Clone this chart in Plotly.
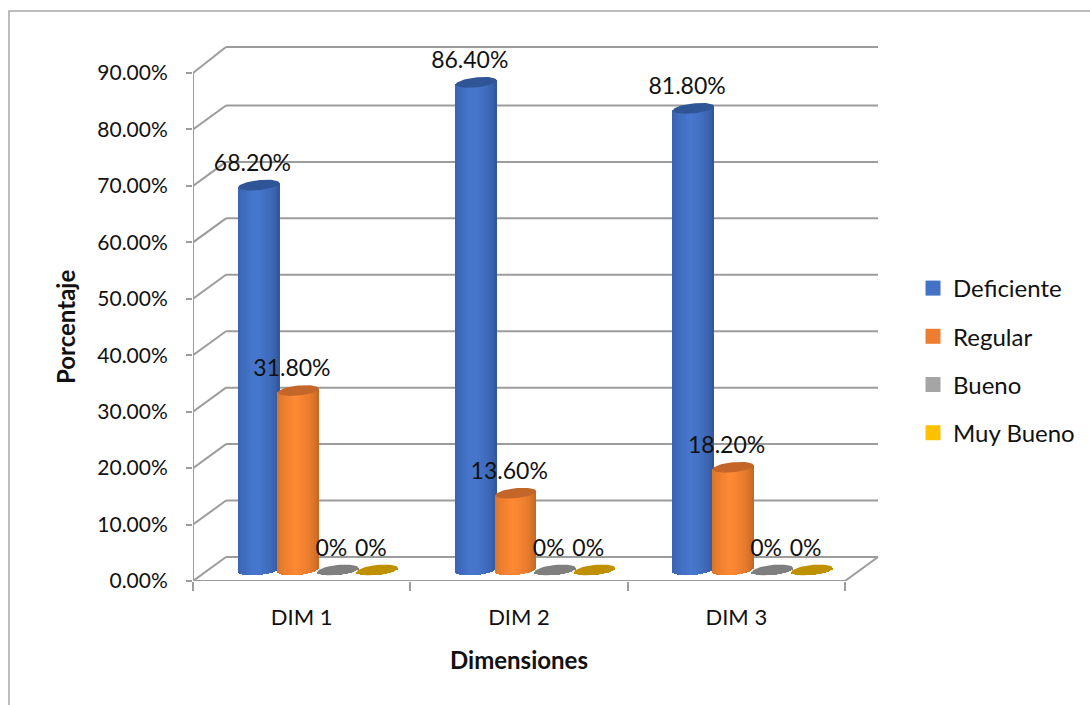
import numpy as np
import plotly.graph_objects as go

# Chart data
categories = ["DIM 1", "DIM 2", "DIM 3"]
deficiente = [68.2, 86.4, 81.8]
regular = [31.8, 13.6, 18.2]
bueno = [0, 0, 0]
muy_bueno = [0, 0, 0]
y_ticks = [0, 10, 20, 30, 40, 50, 60, 70, 80, 90]
y_tick_labels = ["0.00%", "10.00%", "20.00%", "30.00%", "40.00%",
                 "50.00%", "60.00%", "70.00%", "80.00%", "90.00%"]

# Pixel scale of the axes: one category is 217.33 px, one percent is 5.644 px
UX = 1 / 217.33
UY = 1 / 5.644
# The plot area runs to the right page edge so the legend stays inside it
PLOT_W, PLOT_H = 897, 541

# Oblique depth of the chart box and of the cylinders' axis plane
WALL_DX, WALL_DY = 33 * UX, 24 * UY
MID_DX, MID_DY = 16.5 * UX, 11 * UY
# Cylinder proportions
RADIUS = 20.5 * UX
RY = 5 * UY
TILT = 2 * UY
SPACING = 39.5 * UX
FONT = "Lato"
TXT = "#111111"
FRAME = "#9c9c9c"


def lerp_hex(a, b, s):
    ca = [int(a[i:i + 2], 16) for i in (1, 3, 5)]
    cb = [int(b[i:i + 2], 16) for i in (1, 3, 5)]
    return "rgb(%d,%d,%d)" % tuple(round(p + (q - p) * s) for p, q in zip(ca, cb))


series = [
    ("Deficiente", deficiente, "#4472C4", "#2B4D8C", "#4777CE", "#2F5597"),
    ("Regular", regular, "#ED7D31", "#B25E1E", "#FF8934", "#C4662A"),
    ("Bueno", bueno, "#A5A5A5", "#7F7F7F", "#7F7F7F", "#7F7F7F"),
    ("Muy Bueno", muy_bueno, "#FFC000", "#BF9000", "#BF9000", "#BF9000"),
]

fig = go.Figure()

# Shaded cylinder bodies: each one is a run of narrow bars with a curved base
N = 30
strip_t = (np.arange(N) + 0.5) / N * 2 - 1
shade = (1 - np.abs(strip_t + 0.1) / 1.1) ** 0.4
strip_w = 2 * RADIUS / N * 1.25
for k, (name, values, _, edge, centre, _) in enumerate(series):
    xs, bases, heights, colors = [], [], [], []
    for c, v in enumerate(values):
        cx = c + 0.5 + MID_DX + (k - 1.5) * SPACING
        for t, s in zip(strip_t, shade):
            low = MID_DY - RY * np.sqrt(1 - t * t) + TILT * t
            xs.append(cx + t * RADIUS)
            bases.append(low)
            heights.append(v + MID_DY + TILT * t - low)
            colors.append(lerp_hex(edge, centre, s))
    fig.add_trace(go.Bar(x=xs, y=heights, base=bases, width=strip_w,
                         marker=dict(color=colors, line=dict(width=0)),
                         showlegend=False, hoverinfo="skip"))

# Elliptical caps on top of each cylinder
theta = np.linspace(0, 2 * np.pi, 60)
for k, (name, values, _, _, _, cap) in enumerate(series):
    for c, v in enumerate(values):
        cx = c + 0.5 + MID_DX + (k - 1.5) * SPACING
        fig.add_trace(go.Scatter(
            x=cx + RADIUS * np.cos(theta),
            y=v + MID_DY + RY * np.sin(theta) + TILT * np.cos(theta),
            mode="lines", line=dict(width=0), fill="toself", fillcolor=cap,
            showlegend=False, hoverinfo="skip"))

# Front axis lines, floor edges and the diagonals joining them to the back wall
frame_x, frame_y = [0, 0, None, 0, 3, 3 + WALL_DX, None], [0, 90, None, 0, 0, WALL_DY, None]
for v in y_ticks:
    frame_x += [0, WALL_DX, None]
    frame_y += [v, v + WALL_DY + (2 * UY if v == 90 else 0), None]
fig.add_trace(go.Scatter(x=frame_x, y=frame_y, mode="lines",
                         line=dict(color=FRAME, width=2), cliponaxis=False,
                         showlegend=False, hoverinfo="skip"))

# Value labels, above and slightly left of each cap
for k, (name, values, _, _, _, _) in enumerate(series):
    fig.add_trace(go.Scatter(
        x=[c + 0.5 + MID_DX + (k - 1.5) * SPACING - 6.5 * UX for c in range(len(values))],
        y=[v + MID_DY + 20 * UY for v in values],
        text=[f"{v:.2f}%" if v else "0%" for v in values],
        mode="text", textposition="middle center",
        textfont=dict(family=FONT, size=23, color=TXT),
        cliponaxis=False, showlegend=False, hoverinfo="skip"))

# Legend entries
for k, (name, _, swatch, _, _, _) in enumerate(series):
    fig.add_trace(go.Scatter(x=[None], y=[None], mode="markers", name=name,
                             legendgroup=name,
                             marker=dict(symbol="square", size=15, color=swatch)))

# Back wall gridlines sit beneath the cylinders
shapes = [dict(type="line", layer="below", xref="x", yref="y",
               x0=WALL_DX, x1=3 + WALL_DX,
               y0=v + WALL_DY + (2 * UY if v == 90 else 0),
               y1=v + WALL_DY + (2 * UY if v == 90 else 0),
               line=dict(color=FRAME, width=2)) for v in y_ticks]
# Outer chart border, open at the bottom
shapes.append(dict(type="path", xref="paper", yref="paper",
                   path="M %f %f L %f %f L %f %f" % (
                       (9 - 193) / PLOT_W, -(705 - 581) / PLOT_H,
                       (9 - 193) / PLOT_W, (581 - 11) / PLOT_H,
                       (1090 - 193) / PLOT_W, (581 - 11) / PLOT_H),
                   line=dict(color="#a8a8a8", width=1.5)))

fig.update_layout(
    width=1090, height=705, autosize=False,
    margin=dict(l=193, r=1090 - 193 - PLOT_W, t=705 - 124 - PLOT_H, b=124, pad=0),
    paper_bgcolor="white", plot_bgcolor="white",
    barmode="overlay", bargap=0,
    font=dict(family=FONT, size=20, color=TXT),
    shapes=shapes,
    xaxis=dict(range=[0, PLOT_W * UX], showgrid=False, zeroline=False, showline=False,
               tickvals=[0.5, 1.5, 2.5], ticktext=categories, ticks="outside",
               ticklen=17, tickcolor="rgba(0,0,0,0)", tickfont=dict(family=FONT, size=22, color=TXT),
               minor=dict(tickvals=[0, 1, 2, 3], ticks="outside", ticklen=9,
                          tickcolor=FRAME, tickwidth=1.5)),
    yaxis=dict(range=[0, PLOT_H * UY], showgrid=False, zeroline=False, showline=False,
               tickvals=y_ticks, ticktext=y_tick_labels, ticks="outside", ticklen=6,
               tickcolor=FRAME, tickwidth=1.5, ticklabelstandoff=14,
               tickfont=dict(family=FONT, size=21, color=TXT)),
    legend=dict(x=(913 - 193) / PLOT_W, y=(581 - 266) / PLOT_H, xanchor="left", yanchor="top",
                bgcolor="rgba(0,0,0,0)", tracegroupgap=14,
                font=dict(family=FONT, size=24, color=TXT)),
    annotations=[
        dict(text="<b>Porcentaje</b>", xref="paper", yref="paper", textangle=-90,
             x=(65 - 193) / PLOT_W, y=(581 - 327) / PLOT_H, showarrow=False,
             xanchor="center", yanchor="middle", font=dict(family=FONT, size=24, color=TXT)),
        dict(text="<b>Dimensiones</b>", xref="paper", yref="paper",
             x=(519 - 193) / PLOT_W, y=(581 - 659) / PLOT_H, showarrow=False,
             xanchor="center", yanchor="middle", font=dict(family=FONT, size=24, color=TXT)),
    ],
)

fig.write_html("out.html")
